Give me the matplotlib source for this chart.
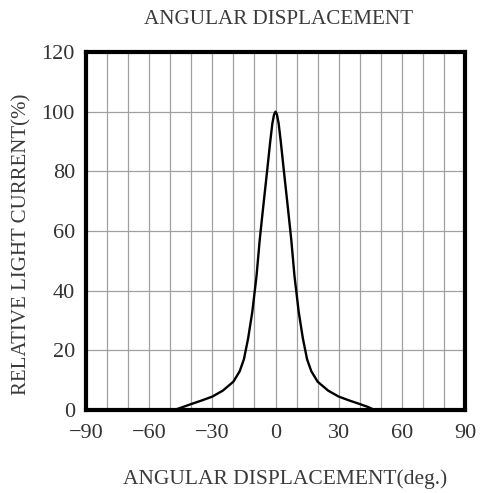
import numpy as np
import matplotlib.pyplot as plt

# Curva
angulos = [-48, -44, -40, -35, -30, -25, -20, -17, -15, -13, -11, -9, -7.5, -6, -4, -2.5, -1.5, -0.7, 0,
           0.7, 1.5, 2.5, 4, 6, 7.5, 9, 11, 13, 15, 17, 20, 25, 30, 35, 40, 44, 47]
corriente = [0, 1, 2, 3.2, 4.5, 6.5, 9.5, 13, 17, 24, 33, 45, 57, 67, 80, 90, 96, 99, 100,
             99, 96, 90, 80, 67, 57, 45, 33, 24, 17, 13, 9.5, 6.5, 4.5, 3.2, 2, 1, 0]

xticks = [-90, -60, -30, 0, 30, 60, 90]
yticks = [0, 20, 40, 60, 80, 100, 120]

plt.rcParams['font.family'] = ['Liberation Serif', 'DejaVu Serif']

fig = plt.figure(figsize=(4.83, 4.93), dpi=100)
ax = fig.add_axes([86/483, 1 - 410/493, (465-86)/483, (410-52)/493])

ax.plot(angulos, corriente, color='black', linewidth=1.7, zorder=3)

ax.set_xlim(-90, 90)
ax.set_ylim(0, 120)
ax.set_xticks(xticks)
ax.set_yticks(yticks)
ax.set_xticklabels([str(t).replace('-', '\u2212') for t in xticks])
ax.set_xticks(np.arange(-90, 91, 10), minor=True)
ax.grid(True, which='both', axis='x', color='#a0a0a0', linewidth=0.9)
ax.grid(True, which='major', axis='y', color='#a0a0a0', linewidth=0.9)
ax.tick_params(which='both', length=0, labelsize=16, pad=8, colors='#333333')
ax.tick_params(axis='x', pad=10)
for s in ax.spines.values():
    s.set_linewidth(3)
    s.set_color('black')

fig.text(279/483, 1 - 20/493, "ANGULAR DISPLACEMENT", ha='center', va='center',
         fontsize=15.2, color='#3a3a3a')
fig.text(285/483, 1 - 479/493, "ANGULAR DISPLACEMENT(deg.)", ha='center', va='center',
         fontsize=15.5, color='#3a3a3a')
fig.text(22/483, 1 - 244/493, "RELATIVE LIGHT CURRENT(%)", ha='center', va='center',
         rotation=90, fontsize=15, color='#3a3a3a')

fig.savefig("out.png", dpi=100)
